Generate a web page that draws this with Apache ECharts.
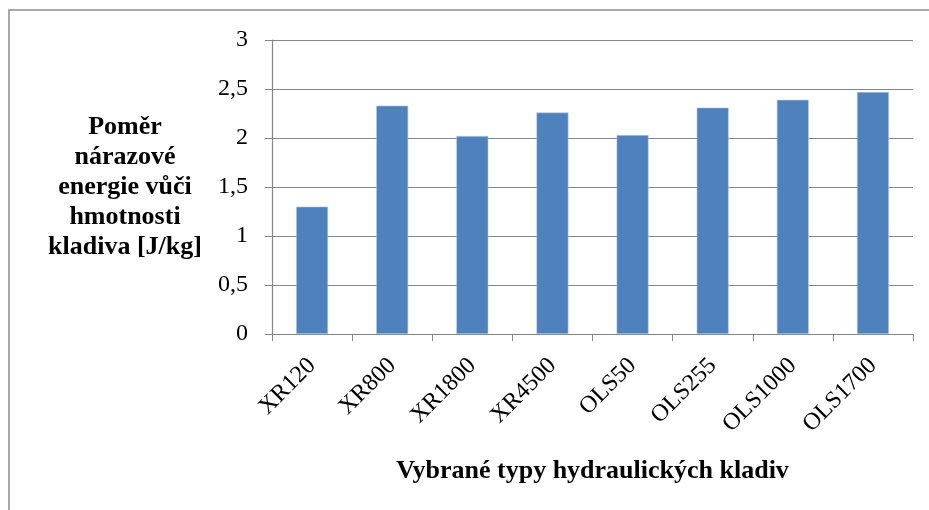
<!DOCTYPE html>
<html lang="cs">
<head>
    <meta charset="UTF-8">
    <title>Poměr nárazové energie</title>
    <style>
        html, body { margin: 0; padding: 0; background: #fff; }
    </style>
</head>
<body>
<div class="main" style="width: 929px;height: 510px;"></div>
</body>
<script src="https://cdn.jsdelivr.net/npm/echarts@6/dist/echarts.min.js"></script>
<script>
    var main = document.querySelector(".main");
    var mainEcharts = echarts.init(main);

    // typy kladiv
    var categories = ["XR120", "XR800", "XR1800", "XR4500", "OLS50", "OLS255", "OLS1000", "OLS1700"];
    // pomer narazove energie vuci hmotnosti [J/kg]
    var values = [1.30, 2.33, 2.02, 2.26, 2.03, 2.31, 2.39, 2.47];

    var serif = "'Liberation Serif', 'Times New Roman', serif";
    var gray = "#868686";

    var option = {
        backgroundColor: "#fff",
        animation: false,
        graphic: [{
            type: "rect",
            shape: {x: 9, y: 10, width: 960, height: 560},
            style: {fill: "none", stroke: "#8c8c8c", lineWidth: 1.5},
            silent: true
        }],
        grid: {left: 272, right: 16, top: 40, bottom: 176},
        xAxis: {
            type: "category",
            data: categories,
            name: "Vybrané typy hydraulických kladiv",
            nameLocation: "middle",
            nameGap: 124,
            nameTextStyle: {
                fontFamily: serif, fontWeight: "bold", fontSize: 26, color: "#000"
            },
            axisLine: {lineStyle: {color: gray, width: 1.2}},
            axisTick: {show: true, length: 7, lineStyle: {color: gray}},
            axisLabel: {
                rotate: 45, margin: 28,
                fontFamily: serif, fontSize: 24, color: "#000"
            }
        },
        yAxis: {
            type: "value",
            min: 0, max: 3, interval: 0.5,
            name: "Poměr\nnárazové\nenergie vůči\nhmotnosti\nkladiva [J/kg]",
            nameLocation: "middle",
            nameRotate: 0,
            nameGap: 147,
            nameTextStyle: {
                fontFamily: serif, fontWeight: "bold", fontSize: 26, color: "#000",
                align: "center", verticalAlign: "middle", lineHeight: 30
            },
            axisLine: {show: true, lineStyle: {color: gray, width: 1.2}},
            axisTick: {show: true, length: 7, lineStyle: {color: gray}},
            splitLine: {lineStyle: {color: gray, width: 1.2}},
            axisLabel: {
                margin: 24, fontFamily: serif, fontSize: 24, color: "#000",
                formatter: function (v) { return String(v).replace(".", ","); }
            }
        },
        series: [{
            type: "bar",
            data: values,
            barWidth: 32,
            itemStyle: {color: "#4f81bd", borderColor: "#b9cde5", borderWidth: 0.6}
        }]
    };

    mainEcharts.setOption(option);
</script>
</html>
